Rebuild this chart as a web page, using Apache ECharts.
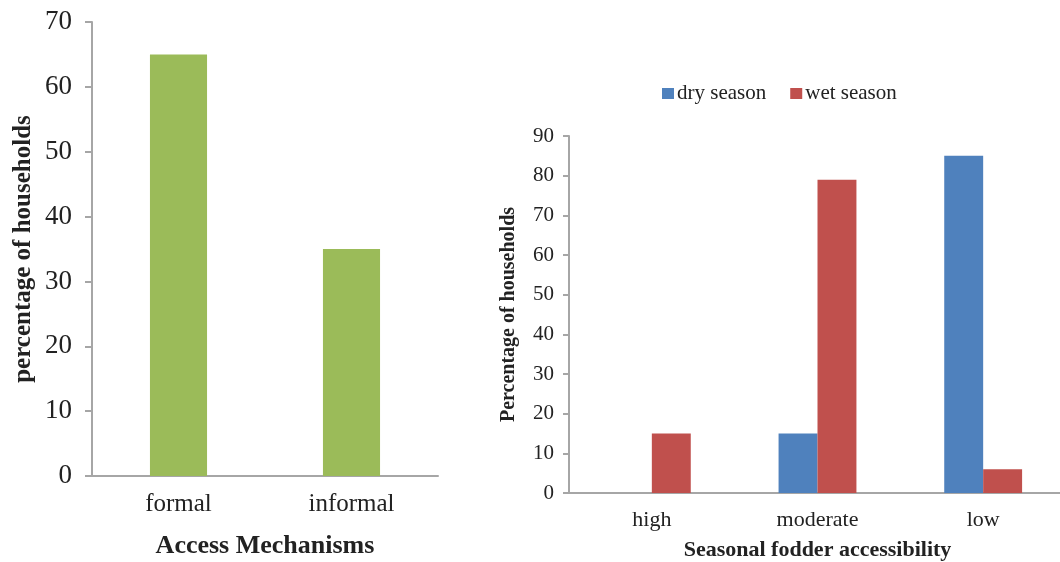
<!DOCTYPE html>
<html><head><meta charset="utf-8">
<script src="https://cdn.jsdelivr.net/npm/echarts@6/dist/echarts.min.js"></script>
<style>html,body{margin:0;padding:0;background:#fff}#c{width:1060px;height:562px}</style>
</head><body><div id="c"></div>
<script>
const accessCategories = ['formal', 'informal'];
const accessValues = [65, 35];
const fodderCategories = ['high', 'moderate', 'low'];
const drySeason = [0, 15, 85];
const wetSeason = [15, 79, 6];
const seriesNames = ['dry season', 'wet season'];

const F = 'Liberation Serif';
const axisColor = '#a6a6a6';
const txt = '#222';
const chart = echarts.init(document.getElementById('c'), null, {renderer: 'canvas'});
chart.setOption({
  animation: false,
  textStyle: {fontFamily: F, color: txt},
  legend: {
    data: seriesNames, top: 78, left: 657, itemWidth: 12, itemHeight: 11, itemGap: 24,
    icon: 'rect',
    textStyle: {fontFamily: F, fontSize: 21, color: txt, padding: [0, 0, 0, -2]}
  },
  grid: [
    {left: 92, top: 22, width: 346, height: 454, outerBoundsMode: 'none', containLabel: false},
    {left: 569, top: 136, width: 497, height: 357, outerBoundsMode: 'none', containLabel: false}
  ],
  xAxis: [
    {type: 'category', gridIndex: 0, data: accessCategories,
     axisLine: {lineStyle: {color: axisColor, width: 2}},
     axisTick: {length: 6, lineStyle: {color: axisColor, width: 2}},
     axisLabel: {fontFamily: F, fontSize: 25, color: txt, margin: 16},
     name: 'Access Mechanisms', nameLocation: 'middle', nameGap: 57,
     nameTextStyle: {fontFamily: F, fontSize: 26, fontWeight: 'bold', color: txt}},
    {type: 'category', gridIndex: 1, data: fodderCategories,
     axisLine: {lineStyle: {color: axisColor, width: 2}},
     axisTick: {length: 6, lineStyle: {color: axisColor, width: 2}},
     axisLabel: {fontFamily: F, fontSize: 22, color: txt, margin: 16},
     name: 'Seasonal fodder accessibility', nameLocation: 'middle', nameGap: 46,
     nameTextStyle: {fontFamily: F, fontSize: 22, fontWeight: 'bold', color: txt}}
  ],
  yAxis: [
    {type: 'value', gridIndex: 0, min: 0, max: 70, interval: 10,
     splitLine: {show: false},
     axisLine: {show: true, lineStyle: {color: axisColor, width: 2}},
     axisTick: {show: true, length: 7, lineStyle: {color: axisColor, width: 2}},
     axisLabel: {fontFamily: F, fontSize: 27, color: txt, margin: 20},
     name: 'percentage of households', nameLocation: 'middle', nameGap: 56, nameRotate: 90,
     nameTextStyle: {fontFamily: F, fontSize: 25, fontWeight: 'bold', color: txt}},
    {type: 'value', gridIndex: 1, min: 0, max: 90, interval: 10,
     splitLine: {show: false},
     axisLine: {show: true, lineStyle: {color: axisColor, width: 2}},
     axisTick: {show: true, length: 6, lineStyle: {color: axisColor, width: 2}},
     axisLabel: {fontFamily: F, fontSize: 21, color: txt, margin: 15},
     name: 'Percentage of households', nameLocation: 'middle', nameGap: 50, nameRotate: 90,
     nameTextStyle: {fontFamily: F, fontSize: 20, fontWeight: 'bold', color: txt}}
  ],
  series: [
    {type: 'bar', xAxisIndex: 0, yAxisIndex: 0, data: accessValues, barCategoryGap: '67%',
     itemStyle: {color: '#9BBB59'}},
    {type: 'bar', name: seriesNames[0], xAxisIndex: 1, yAxisIndex: 1, data: drySeason,
     barGap: '0%', barCategoryGap: '53%', itemStyle: {color: '#4F81BD'}},
    {type: 'bar', name: seriesNames[1], xAxisIndex: 1, yAxisIndex: 1, data: wetSeason,
     barGap: '0%', barCategoryGap: '53%', itemStyle: {color: '#C0504D'}}
  ]
});
</script></body></html>
